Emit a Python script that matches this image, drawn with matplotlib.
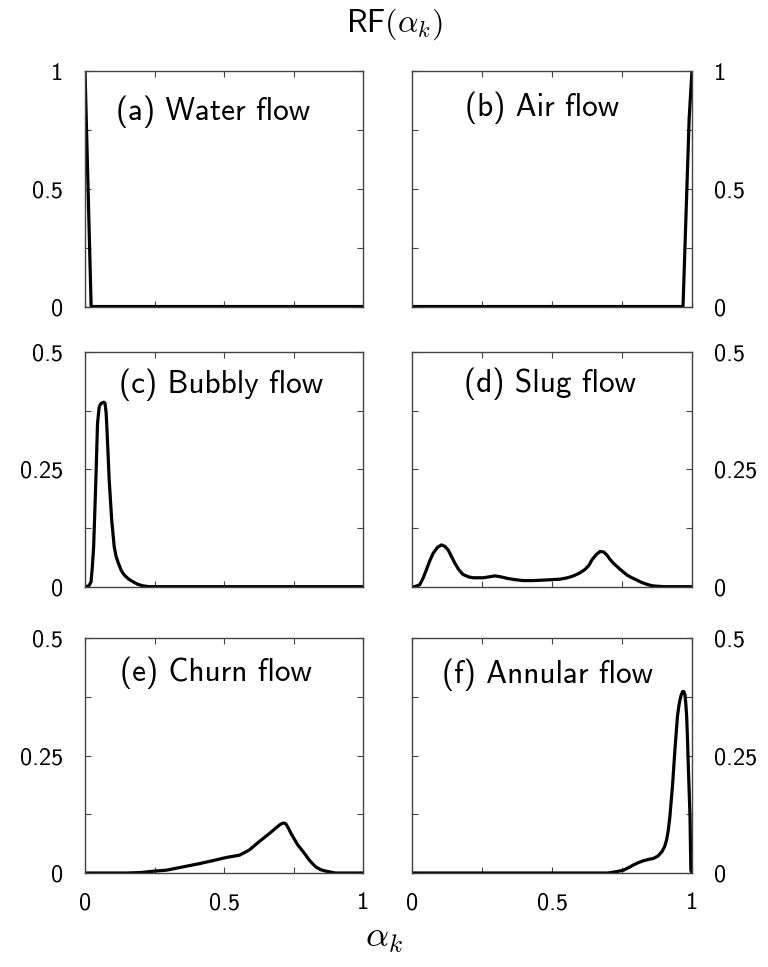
import matplotlib
matplotlib.use("Agg")
import matplotlib.pyplot as plt

plt.rcParams["font.family"] = ["cmss10", "DejaVu Sans"]
plt.rcParams["mathtext.fontset"] = "cm"
plt.rcParams["axes.unicode_minus"] = False

# ---- data: relative frequency of the void fraction for each flow regime ----
water_x = [0.0, 0.022, 0.05, 1.0]
water_y = [1.0, 0.0, 0.0, 0.0]

air_x = [0.0, 0.95, 0.968, 0.99, 1.0]
air_y = [0.0, 0.0, 0.0, 0.8, 1.0]

bubbly_x = [0.0, 0.004, 0.014, 0.0215, 0.026, 0.031, 0.039, 0.045, 0.051, 0.057,
            0.063, 0.068, 0.072, 0.076, 0.079, 0.087, 0.096, 0.105, 0.112,
            0.12, 0.13, 0.141, 0.155, 0.171, 0.19, 0.207, 0.23, 1.0]
bubbly_y = [0.0, 0.0, 0.002, 0.01, 0.04, 0.085, 0.227, 0.348, 0.383, 0.39,
            0.392, 0.393, 0.391, 0.37, 0.334, 0.227, 0.142, 0.085, 0.064,
            0.05, 0.035, 0.025, 0.017, 0.011, 0.005, 0.002, 0.0, 0.0]

slug_x = [0.0, 0.008, 0.026, 0.038, 0.05, 0.062, 0.074, 0.09, 0.104, 0.116,
          0.128, 0.14, 0.152, 0.166, 0.181, 0.2, 0.217, 0.235, 0.253, 0.275,
          0.295, 0.316, 0.337, 0.366, 0.396, 0.43, 0.468, 0.5, 0.528, 0.555,
          0.576, 0.598, 0.618, 0.632, 0.642, 0.657, 0.671, 0.684, 0.695,
          0.707, 0.719, 0.743, 0.767, 0.785, 0.803, 0.82, 0.839, 0.857, 0.875,
          0.9, 1.0]
slug_y = [0.0, 0.0, 0.004, 0.018, 0.036, 0.055, 0.071, 0.084, 0.089, 0.086,
          0.078, 0.064, 0.05, 0.036, 0.026, 0.021, 0.019, 0.019, 0.019, 0.021,
          0.023, 0.021, 0.018, 0.015, 0.013, 0.013, 0.014, 0.015, 0.016, 0.019,
          0.023, 0.029, 0.037, 0.046, 0.057, 0.068, 0.075, 0.074, 0.068,
          0.058, 0.05, 0.037, 0.025, 0.019, 0.014, 0.009, 0.005, 0.002, 0.001,
          0.0, 0.0]

churn_x = [0.0, 0.15, 0.2, 0.25, 0.293, 0.352, 0.412, 0.472, 0.508, 0.556,
           0.591, 0.627, 0.663, 0.693, 0.704, 0.711, 0.718, 0.723, 0.732, 0.741,
           0.765, 0.789, 0.806, 0.82, 0.83, 0.848, 0.866, 0.9, 1.0]
churn_y = [0.0, 0.0, 0.001, 0.004, 0.006, 0.013, 0.02, 0.028, 0.033, 0.038,
           0.049, 0.067, 0.084, 0.099, 0.104, 0.106, 0.106, 0.104, 0.095, 0.084,
           0.06, 0.042, 0.028, 0.019, 0.013, 0.007, 0.004, 0.0, 0.0]

annular_x = [0.0, 0.7, 0.731, 0.755, 0.772, 0.79, 0.808, 0.826, 0.845, 0.862,
             0.878, 0.892, 0.902, 0.909, 0.915, 0.921, 0.926, 0.931, 0.939,
             0.948, 0.953, 0.957, 0.962, 0.967, 0.971, 0.975, 0.978, 0.981,
             0.984, 0.987, 0.993, 0.996, 1.0]
annular_y = [0.0, 0.0, 0.003, 0.006, 0.011, 0.017, 0.022, 0.026, 0.029, 0.031,
             0.036, 0.045, 0.056, 0.07, 0.09, 0.12, 0.155, 0.191, 0.262,
             0.333, 0.355, 0.368, 0.38, 0.386, 0.386, 0.379, 0.36, 0.333,
             0.285, 0.226, 0.12, 0.006, 0.0]

panel_titles = ["(a) Water flow", "(b) Air flow", "(c) Bubbly flow",
                "(d) Slug flow", "(e) Churn flow", "(f) Annular flow"]

x_ticks = [0, 0.25, 0.5, 0.75, 1]
x_ticklabels = ["0", "", "0.5", "", "1"]
y_ticks_top = [0, 0.25, 0.5, 0.75, 1]
y_ticklabels_top = ["0", "", "0.5", "", "1"]
y_ticks_low = [0, 0.125, 0.25, 0.375, 0.5]
y_ticklabels_low = ["0", "", "0.25", "", "0.5"]

series = [(water_x, water_y), (air_x, air_y), (bubbly_x, bubbly_y),
          (slug_x, slug_y), (churn_x, churn_y), (annular_x, annular_y)]

# ---- layout ----
fig = plt.figure(figsize=(7.68, 9.67), dpi=100)

col_left = [0.1107, 0.537]
col_width = [0.362, 0.364]
row_bottom = [0.683, 0.3933, 0.0972]
row_height = [0.2435, 0.2427, 0.243]

label_pos = [(0.46, 0.827), (0.462, 0.845), (0.49, 0.86),
             (0.492, 0.866), (0.472, 0.851), (0.484, 0.843)]

spine_color = "#444444"

for i, (xs, ys) in enumerate(series):
    r, c = divmod(i, 2)
    ax = fig.add_axes([col_left[c], row_bottom[r], col_width[c], row_height[r]])
    ax.plot(xs, ys, color="black", lw=2.3, solid_joinstyle="round",
            solid_capstyle="round")
    ax.set_xlim(0, 1)
    if r == 0:
        ax.set_ylim(0, 1)
        ax.set_yticks(y_ticks_top)
        ax.set_yticklabels(y_ticklabels_top)
    else:
        ax.set_ylim(0, 0.5)
        ax.set_yticks(y_ticks_low)
        ax.set_yticklabels(y_ticklabels_low)
    ax.set_xticks(x_ticks)
    if r == 2:
        ax.set_xticklabels(x_ticklabels)
    else:
        ax.set_xticklabels([""] * len(x_ticks))

    ax.tick_params(direction="in", length=4.5, width=0.8, color=spine_color,
                   top=True, right=True, labelsize=17.5, pad=16)
    ax.tick_params(axis="x", pad=14)
    if c == 0:
        ax.tick_params(axis="y", labelleft=True, labelright=False)
    else:
        ax.tick_params(axis="y", labelleft=False, labelright=True)
    for s in ax.spines.values():
        s.set_color(spine_color)
        s.set_linewidth(1.0)

    ax.text(label_pos[i][0], label_pos[i][1], panel_titles[i],
            transform=ax.transAxes, ha="center", va="center", fontsize=22.5)

fig.text(0.513, 0.975, r"RF$(\alpha_k)$", ha="center", va="center", fontsize=23)
fig.text(0.5, 0.029, r"$\alpha_k$", ha="center", va="center", fontsize=26)

fig.savefig("out.png", dpi=100)
